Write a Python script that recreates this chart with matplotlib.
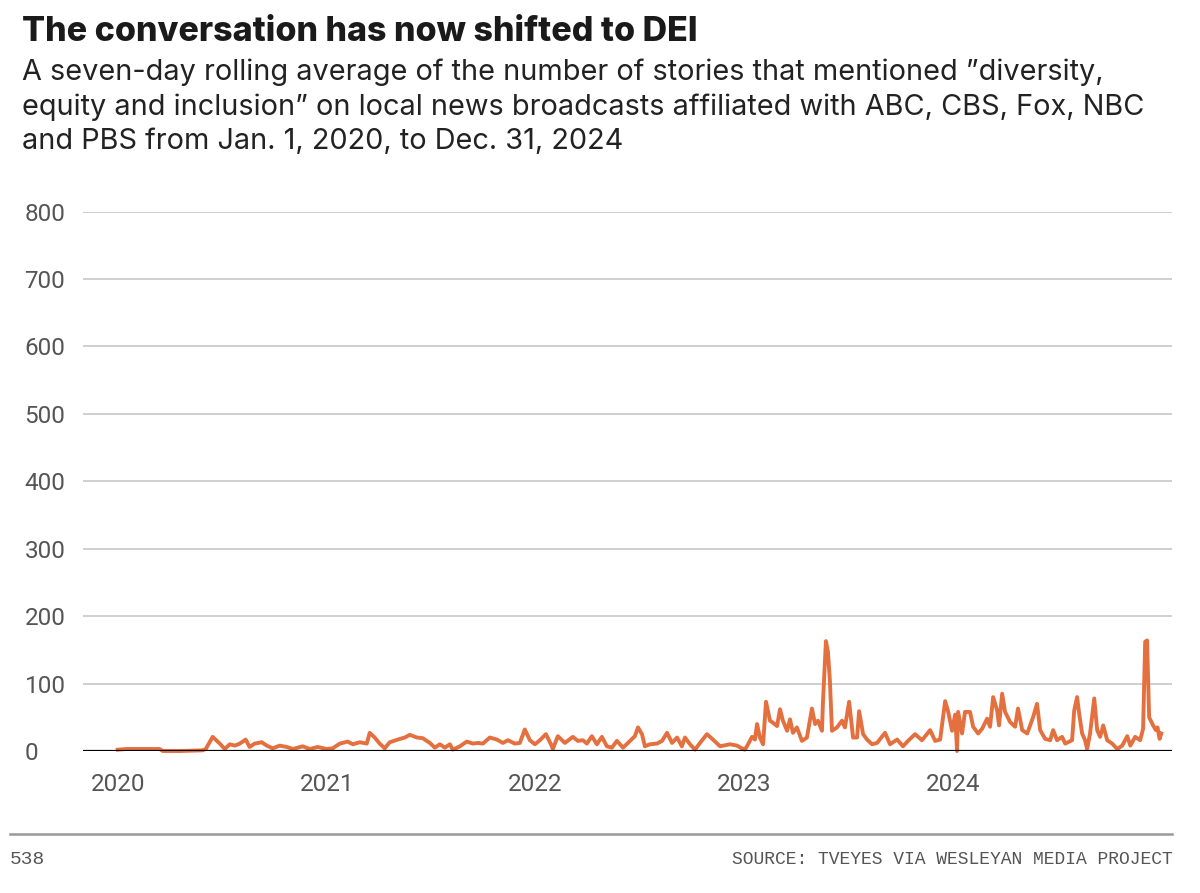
import pandas as pd
import matplotlib.pyplot as plt
import matplotlib.dates as mdates

# decimal years (position in time) and seven-day rolling average values
years = [
    2020.000, 2020.043, 2020.105, 2020.201, 2020.216, 2020.297, 2020.407, 2020.422,
    2020.455, 2020.489, 2020.513, 2020.537, 2020.561, 2020.585, 2020.613, 2020.632,
    2020.656, 2020.690, 2020.714, 2020.743, 2020.776, 2020.810, 2020.839, 2020.886,
    2020.920, 2020.958, 2021.001, 2021.030, 2021.064, 2021.102, 2021.126, 2021.160,
    2021.193, 2021.207, 2021.231, 2021.255, 2021.279, 2021.303, 2021.342, 2021.375,
    2021.399, 2021.433, 2021.461, 2021.485, 2021.495, 2021.519, 2021.543, 2021.567,
    2021.591, 2021.605, 2021.639, 2021.672, 2021.701, 2021.725, 2021.749, 2021.782,
    2021.816, 2021.845, 2021.869, 2021.902, 2021.926, 2021.950, 2021.974, 2021.998,
    2022.022, 2022.051, 2022.075, 2022.084, 2022.108, 2022.142, 2022.180, 2022.204,
    2022.228, 2022.247, 2022.271, 2022.295, 2022.319, 2022.343, 2022.367, 2022.391,
    2022.420, 2022.444, 2022.477, 2022.492, 2022.511, 2022.525, 2022.549, 2022.583,
    2022.607, 2022.631, 2022.655, 2022.679, 2022.702, 2022.717, 2022.741, 2022.765,
    2022.789, 2022.822, 2022.851, 2022.885, 2022.933, 2022.966, 2022.995, 2023.004,
    2023.019, 2023.038, 2023.052, 2023.062, 2023.076, 2023.091, 2023.105, 2023.124,
    2023.138, 2023.158, 2023.172, 2023.186, 2023.206, 2023.220, 2023.234, 2023.253,
    2023.277, 2023.301, 2023.325, 2023.340, 2023.354, 2023.373, 2023.378, 2023.392,
    2023.402, 2023.411, 2023.421, 2023.445, 2023.469, 2023.483, 2023.503, 2023.522,
    2023.541, 2023.551, 2023.570, 2023.589, 2023.613, 2023.637, 2023.675, 2023.699,
    2023.733, 2023.761, 2023.785, 2023.819, 2023.852, 2023.891, 2023.915, 2023.939,
    2023.963, 2023.977, 2023.996, 2024.011, 2024.020, 2024.025, 2024.044, 2024.058,
    2024.082, 2024.097, 2024.121, 2024.140, 2024.164, 2024.178, 2024.193, 2024.212,
    2024.221, 2024.236, 2024.250, 2024.274, 2024.298, 2024.312, 2024.332, 2024.356,
    2024.384, 2024.403, 2024.418, 2024.442, 2024.466, 2024.480, 2024.499, 2024.523,
    2024.538, 2024.571, 2024.581, 2024.595, 2024.605, 2024.619, 2024.633, 2024.643,
    2024.657, 2024.677, 2024.691, 2024.705, 2024.720, 2024.739, 2024.763, 2024.787,
    2024.811, 2024.835, 2024.850, 2024.873, 2024.897, 2024.911, 2024.921, 2024.930,
    2024.940, 2024.959, 2024.972, 2024.980, 2024.990, 2024.998,
]
stories = [
    2, 3, 3, 3, 0, 0, 1, 3,
    21, 11, 3, 10, 8, 11, 17, 6,
    11, 13, 8, 4, 8, 6, 3, 7,
    3, 6, 3, 4, 11, 14, 10, 13,
    11, 27, 20, 11, 4, 13, 17, 20,
    24, 20, 19, 14, 12, 5, 10, 5,
    10, 2, 7, 14, 11, 12, 11, 20,
    17, 12, 16, 11, 12, 32, 16, 10,
    16, 25, 10, 3, 22, 12, 21, 15,
    16, 11, 22, 10, 21, 7, 5, 15,
    5, 12, 22, 35, 25, 7, 10, 11,
    15, 27, 12, 20, 7, 20, 10, 2,
    12, 25, 17, 7, 10, 8, 3, 2,
    10, 21, 17, 40, 20, 10, 73, 45,
    42, 37, 62, 45, 30, 47, 27, 35,
    15, 20, 63, 40, 45, 30, 74, 163,
    146, 104, 30, 35, 45, 35, 73, 20,
    20, 59, 25, 17, 10, 12, 27, 10,
    17, 7, 15, 25, 16, 31, 15, 17,
    74, 59, 30, 54, 0, 58, 26, 58,
    58, 36, 26, 33, 48, 36, 80, 60,
    38, 85, 58, 43, 36, 63, 31, 26,
    50, 70, 31, 18, 16, 31, 16, 21,
    11, 16, 60, 80, 55, 26, 16, 3,
    26, 78, 31, 21, 38, 16, 11, 3,
    8, 22, 8, 21, 16, 33, 162, 164,
    50, 38, 31, 35, 18, 26,
]
y_ticks = [0, 100, 200, 300, 400, 500, 600, 700, 800]
x_tick_years = [2020, 2021, 2022, 2023, 2024]

title = "The conversation has now shifted to DEI"
subtitle = ("A seven-day rolling average of the number of stories that mentioned \u201ddiversity,\n"
            "equity and inclusion\u201d on local news broadcasts affiliated with ABC, CBS, Fox, NBC\n"
            "and PBS from Jan. 1, 2020, to Dec. 31, 2024")
source = "SOURCE: TVEYES VIA WESLEYAN MEDIA PROJECT"

start = pd.Timestamp("2020-01-01")
dates = [start + pd.Timedelta(days=(y - 2020) * 365.25) for y in years]

tick_font = "Roboto"

fig = plt.figure(figsize=(12, 8.93), dpi=100)
ax = fig.add_axes([0.069, 0.159, 0.908, 0.604])

ax.plot(dates, stories, color="#e5703f", lw=2.8, solid_joinstyle="round", zorder=3, clip_on=False)

ax.set_ylim(0, 800)
ax.set_xlim(start - pd.Timedelta(days=61), pd.Timestamp("2025-01-19"))
ax.set_yticks(y_ticks)
ax.set_xticks([pd.Timestamp(f"{y}-01-01") for y in x_tick_years])
ax.xaxis.set_major_formatter(mdates.DateFormatter("%Y"))

for v in y_ticks[1:]:
    ax.axhline(v, color="#cccccc", lw=1.3, zorder=1)
ax.axhline(0, color="black", lw=1.6, zorder=4)

for s in ax.spines.values():
    s.set_visible(False)
ax.tick_params(length=0)
ax.tick_params(axis="x", pad=16)
for lab in ax.get_xticklabels():
    lab.set_fontfamily(tick_font)
    lab.set_fontsize(17.5)
    lab.set_color("#555555")
ax.set_yticklabels([str(v) for v in y_ticks], fontfamily=tick_font, fontsize=17.5,
                   color="#555555", ha="left")
ax.tick_params(axis="y", pad=42)

fig.text(0.018, 0.982, title, fontsize=24.5, fontweight="heavy", family="Inter",
         color="#1a1a1a", va="top")
fig.text(0.018, 0.934, subtitle, fontsize=20.8, family="Inter", color="#222222",
         va="top", linespacing=1.33)

fig.add_artist(plt.Line2D([0.008, 0.977], [0.066, 0.066], color="#999999", lw=1.8))
fig.text(0.008, 0.038, "538", fontsize=14, family="Liberation Mono", color="#555555", va="center")
fig.text(0.977, 0.038, source, fontsize=13, family="Liberation Mono", color="#555555",
         va="center", ha="right")

fig.savefig("out.png", dpi=100, facecolor="white")
